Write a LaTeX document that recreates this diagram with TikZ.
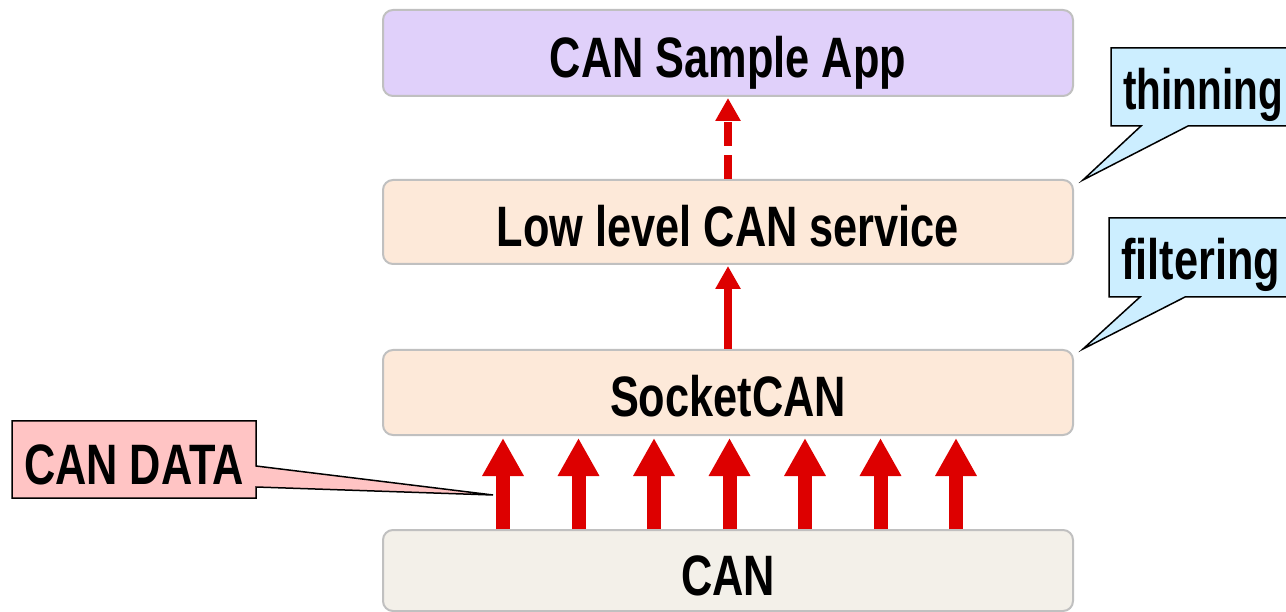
\documentclass[tikz,border=0pt]{standalone}
\usepackage{fontspec}
\newfontfamily\lblfont{Liberation Sans}[FakeStretch=0.76]
\newfontfamily\narrowfont{Liberation Sans}[FakeStretch=0.71]
\usetikzlibrary{arrows.meta}
\definecolor{appfill}{RGB}{224,208,250}
\definecolor{midfill}{RGB}{253,233,217}
\definecolor{canfill}{RGB}{243,240,233}
\definecolor{edgegray}{RGB}{192,192,192}
\definecolor{sigred}{RGB}{221,0,0}
\definecolor{noteblue}{RGB}{204,238,255}
\definecolor{notepink}{RGB}{255,196,196}
\begin{document}
\begin{tikzpicture}[x=1pt,y=-1pt,
  labelfont/.style={font={\lblfont\bfseries\fontsize{57}{60}\selectfont}},
  layer/.style={labelfont, draw=edgegray, line width=2pt, rounded corners=10pt,
    minimum width=690pt, minimum height=#1, inner sep=0pt,
    text height=49pt, text depth=0pt},
  layer/.default=85pt,
  bigup/.style={draw=sigred, line width=14pt,
    -{Triangle[width=39pt,length=38pt]}, shorten >=2pt},
  smallup/.style={draw=sigred, line width=8pt,
    -{Triangle[width=24pt,length=23pt]}, shorten >=1pt},
  notebox/.style={draw=black, line width=1.5pt},
  notetext/.style={labelfont, inner sep=0pt}]
\useasboundingbox (0,0) rectangle (1286,612);

% software stack
\node[layer=86pt, fill=appfill] (app)  at (728,53)    {CAN Sample App};
\node[layer=84pt, fill=midfill] (llc)  at (728,222)   {Low level CAN service};
\node[layer=85pt, fill=midfill] (sock) at (728,392.5) {SocketCAN};
\node[layer=81pt, fill=canfill] (can)  at (728,570.5) {CAN};

% data flow between layers
\draw[smallup, dash pattern=on 24pt off 9pt] (llc.north) -- (app.south);
\draw[smallup] (sock.north) -- (llc.south);
\foreach \x [count=\i] in {503,578.5,654,729.5,805,880.5,956} {
  \coordinate (col\i) at (\x,0);
  \draw[bigup] (can.north -| col\i) -- (sock.south -| col\i);
}

% callouts
\draw[notebox, fill=noteblue] (1111,48) -- (1300,48) -- (1300,126) -- (1188,126)
  -- (1083,180) -- (1141,126) -- (1111,126) -- cycle;
\node[notetext, anchor=base west,
  font={\narrowfont\bfseries\fontsize{57}{60}\selectfont}] (thin) at (1123,110) {thinning};

\draw[notebox, fill=noteblue] (1109,218) -- (1300,218) -- (1300,297) -- (1185,297)
  -- (1083,349) -- (1140,297) -- (1109,297) -- cycle;
\node[notetext, anchor=base west] (filt) at (1121,280) {filtering};

\draw[notebox, fill=notepink] (12,421) -- (256,421) -- (256,466) -- (493,495)
  -- (256,487) -- (256,498) -- (12,498) -- cycle;
\node[notetext, anchor=base] (data) at (134,484) {CAN DATA};
\end{tikzpicture}
\end{document}
